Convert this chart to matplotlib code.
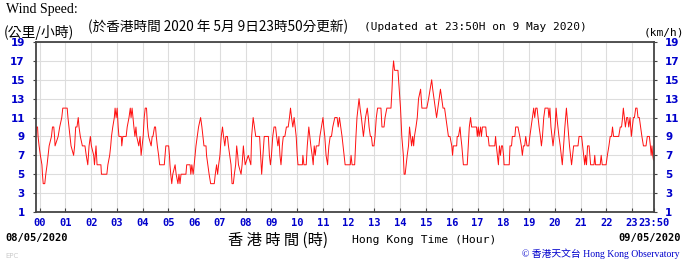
import matplotlib
matplotlib.use("Agg")
import matplotlib.pyplot as plt

# ---- data (hours since 00:00 on 08/05/2020, wind speed km/h) ----
hours = [
    -0.14, -0.12, -0.08, -0.06, -0.02, 0.03, 0.09, 0.11, 0.14, 0.20, 0.24, 0.29, 0.33, 0.37, 0.46, 0.50,
    0.55, 0.58, 0.60, 0.72, 0.78, 0.86, 0.90, 1.07, 1.10, 1.14, 1.18, 1.22, 1.32, 1.36, 1.40, 1.45,
    1.50, 1.53, 1.58, 1.66, 1.76, 1.81, 1.87, 1.92, 1.97, 2.01, 2.10, 2.13, 2.19, 2.23, 2.38, 2.40,
    2.61, 2.65, 2.72, 2.76, 2.79, 2.84, 2.90, 2.93, 2.97, 3.01, 3.05, 3.08, 3.17, 3.19, 3.23, 3.36,
    3.40, 3.47, 3.52, 3.55, 3.59, 3.66, 3.70, 3.74, 3.77, 3.85, 3.90, 3.94, 3.98, 4.02, 4.06, 4.10,
    4.15, 4.19, 4.23, 4.33, 4.37, 4.40, 4.46, 4.50, 4.53, 4.57, 4.62, 4.66, 4.84, 4.87, 4.90, 5.01,
    5.04, 5.06, 5.09, 5.13, 5.17, 5.26, 5.30, 5.37, 5.41, 5.45, 5.49, 5.68, 5.71, 5.84, 5.87, 5.91,
    5.96, 6.00, 6.07, 6.12, 6.17, 6.25, 6.30, 6.34, 6.38, 6.46, 6.48, 6.53, 6.58, 6.64, 6.78, 6.82,
    6.87, 6.91, 6.95, 7.00, 7.05, 7.10, 7.14, 7.19, 7.23, 7.29, 7.33, 7.38, 7.43, 7.47, 7.52, 7.56,
    7.61, 7.65, 7.69, 7.72, 7.82, 7.86, 7.91, 7.94, 7.98, 8.10,
    8.20, 8.23, 8.29, 8.34, 8.39, 8.54, 8.58, 8.62, 8.67, 8.72, 8.88, 8.92, 8.96, 9.00, 9.05, 9.10,
    9.16, 9.20, 9.25, 9.29, 9.33, 9.37, 9.40, 9.42, 9.46, 9.52, 9.58, 9.65, 9.70, 9.74, 9.78, 9.83,
    9.88, 9.92, 9.96, 10.00, 10.03, 10.20, 10.22, 10.26, 10.35, 10.39, 10.45, 10.49, 10.53, 10.58, 10.62, 10.66,
    10.70, 10.74, 10.84, 10.88, 10.94, 11.00, 11.03, 11.07, 11.12, 11.18, 11.20, 11.23, 11.28, 11.33, 11.38, 11.46,
    11.55, 11.59, 11.64, 11.69, 11.74, 11.78, 11.82, 11.86, 12.06, 12.09, 12.13, 12.23, 12.28, 12.32, 12.36, 12.40,
    12.44, 12.49, 12.53, 12.57, 12.61, 12.65, 12.72, 12.76, 12.79, 12.84, 12.88, 12.92, 12.98, 13.02, 13.07, 13.12,
    13.25, 13.29, 13.37, 13.41, 13.48, 13.64, 13.68, 13.71, 13.74, 13.78, 13.91, 13.96, 14.01, 14.06, 14.12, 14.15,
    14.19, 14.23, 14.27, 14.32, 14.36, 14.40, 14.44, 14.48, 14.52, 14.55, 14.61, 14.66, 14.71, 14.79, 14.84, 15.03,
    15.10, 15.16, 15.22, 15.26, 15.31, 15.36, 15.41, 15.46, 15.51, 15.56, 15.61, 15.66, 15.72, 15.77, 15.82, 15.87,
    15.93, 16.00, 16.03,
    16.06, 16.19, 16.21, 16.26, 16.32, 16.35, 16.39, 16.45, 16.60, 16.64, 16.68, 16.73, 16.77, 16.96, 16.99, 17.03,
    17.06, 17.12, 17.15, 17.19, 17.32, 17.35, 17.41, 17.45, 17.67, 17.70, 17.73, 17.77, 17.81, 17.85, 17.89, 17.93,
    17.97, 18.01, 18.03, 18.23, 18.26, 18.32, 18.35, 18.45, 18.48, 18.57, 18.64, 18.70, 18.74, 18.78, 18.83, 18.87,
    18.92, 18.99, 19.03, 19.08, 19.13, 19.18, 19.22, 19.26, 19.31, 19.35, 19.39, 19.44, 19.48, 19.52, 19.57, 19.62,
    19.74, 19.77, 19.81, 19.85, 19.89, 19.93, 19.97, 20.01, 20.05, 20.08, 20.12, 20.16, 20.21, 20.25, 20.29, 20.34,
    20.39, 20.45, 20.48, 20.54, 20.57, 20.61, 20.65, 20.69, 20.73, 20.90, 20.94, 21.04, 21.08, 21.12, 21.16, 21.19,
    21.23, 21.27, 21.33, 21.36, 21.39, 21.52, 21.55, 21.58, 21.76, 21.80, 21.84, 21.99, 22.04, 22.10, 22.15, 22.20,
    22.24, 22.28, 22.48, 22.54, 22.59, 22.63, 22.66, 22.70, 22.74, 22.79, 22.83, 22.87, 22.92, 22.97, 23.01, 23.05,
    23.09, 23.14, 23.19, 23.23, 23.28, 23.33, 23.38, 23.44, 23.54, 23.59, 23.67, 23.71, 23.74, 23.77, 23.80, 23.83,
]
speed = [
    9, 10, 10, 9, 8, 7, 6, 5, 4, 4, 5, 6, 7, 8, 9, 10,
    10, 9, 8, 9, 10, 11, 12, 12, 11, 10, 9, 8, 7, 8, 10, 10,
    11, 10, 9, 8, 8, 7, 6, 8, 9, 8, 7, 6, 8, 6, 6, 5,
    5, 6, 7, 8, 9, 10, 11, 12, 11, 12, 10, 9, 9, 8, 9, 9,
    10, 11, 12, 11, 12, 10, 9, 10, 9, 8, 9, 7, 8, 9, 11, 12,
    12, 10, 9, 8, 9, 9, 10, 10, 9, 8, 7, 6, 6, 7, 8, 8,
    7, 6, 5, 4, 5, 6, 5, 4, 5, 4, 5, 5, 6, 6, 5, 6,
    5, 6, 8, 9, 10, 11, 10, 9, 8, 8, 7, 6, 5, 4, 4, 5,
    6, 5, 6, 7, 9, 10, 9, 8, 9, 9, 8, 7, 6, 4, 4, 5,
    6, 8, 7, 6, 5, 6, 8, 7, 6, 7,
    6, 9, 11, 10, 9, 9, 7, 5, 7, 9, 9, 7, 6, 7, 9, 10,
    10, 9, 8, 9, 7, 6, 7, 8, 9, 9, 10, 10, 11, 12, 11, 10,
    11, 10, 9, 7, 6, 6, 7, 6, 6, 8, 10, 9, 8, 7, 6, 8,
    7, 8, 8, 9, 10, 11, 10, 9, 7, 6, 7, 8, 9, 9, 10, 11,
    11, 10, 11, 10, 9, 8, 7, 6, 6, 7, 6, 6, 9, 11, 12, 13,
    12, 11, 10, 9, 10, 11, 12, 11, 10, 9, 9, 8, 8, 9, 11, 12,
    12, 10, 10, 11, 12, 12, 14, 16, 17, 16, 16, 14, 12, 9, 7, 5,
    5, 6, 7, 8, 10, 9, 8, 9, 8, 9, 10, 11, 13, 14, 12, 12,
    13, 14, 15, 14, 13, 12, 11, 12, 13, 14, 13, 12, 12, 11, 10, 9,
    9, 8, 7,
    8, 8, 9, 9, 10, 9, 8, 6, 6, 8, 10, 11, 10, 10, 9, 10,
    9, 10, 9, 10, 10, 9, 9, 8, 8, 9, 8, 7, 6, 8, 7, 8,
    8, 7, 6, 6, 8, 8, 9, 9, 10, 10, 9, 8, 7, 8, 8, 9,
    8, 8, 9, 10, 11, 12, 11, 12, 12, 11, 10, 9, 8, 9, 11, 12,
    12, 11, 12, 10, 9, 8, 9, 10, 12, 11, 10, 9, 8, 7, 6, 8,
    10, 12, 11, 9, 8, 7, 6, 7, 8, 8, 9, 9, 8, 7, 6, 7,
    6, 8, 8, 7, 6, 6, 7, 6, 6, 7, 6, 6, 7, 8, 9, 9,
    10, 9, 9, 10, 10, 11, 12, 11, 10, 11, 11, 10, 11, 9, 10, 11,
    11, 12, 12, 11, 11, 10, 9, 8, 8, 9, 9, 8, 7, 8, 7, 6.5,
]
x_tick_pos = list(range(24)) + [23 + 50 / 60]
x_tick_labels = ["%02d" % h for h in range(24)] + ["23:50"]
y_ticks = [1, 3, 5, 7, 9, 11, 13, 15, 17, 19]

BLUE = "#0000CC"
CJK = ["Noto Sans CJK TC", "DejaVu Sans"]

fig = plt.figure(figsize=(6.85, 2.62), dpi=100)
fig.patch.set_facecolor("white")
W, H = 685, 262
ax = fig.add_axes([36 / W, 1 - 212 / H, (654 - 36) / W, (212 - 42) / H])

ax.plot(hours, speed, color="#FF1010", lw=0.7)

ax.set_xlim(-0.14, 23.85)
ax.set_ylim(1, 19)
ax.set_xticks(x_tick_pos)
ax.set_xticklabels(x_tick_labels)
ax.set_yticks(y_ticks)
ax.grid(True, color="#DDDDDD", lw=0.8)
ax.set_axisbelow(True)

for s in ax.spines.values():
    s.set_color("#444444")
    s.set_linewidth(1.3)

ax.tick_params(axis="x", direction="in", length=3, colors="#444444", pad=4,
               labelcolor=BLUE, labelsize=7.5)
ax.tick_params(axis="y", direction="out", length=2, colors="#444444", pad=6,
               labelcolor=BLUE, labelsize=7.5, left=True, right=True,
               labelleft=True, labelright=True)
for lab in ax.get_xticklabels():
    lab.set_fontfamily("DejaVu Sans Mono")
    lab.set_fontweight("bold")
for t in ax.yaxis.get_major_ticks():
    for lab in (t.label1, t.label2):
        lab.set_fontweight("bold")
        lab.set_fontfamily("DejaVu Sans")
        lab.set_fontsize(7.5)
        lab.set_color(BLUE)

def ft(x, y, s, **kw):
    fig.text(x / W, 1 - y / H, s, **kw)

ft(6, 10, "Wind Speed:", family="Liberation Serif", fontsize=10, va="center")
ft(4, 32, "(公里/小時)", family=CJK, fontsize=10, va="center")
ft(88, 27, "(於香港時間 2020 年 5月 9日23時50分更新)", family=CJK, fontsize=9.8, va="center")
ft(364, 27, "(Updated at 23:50H on 9 May 2020)", family="DejaVu Sans Mono", fontsize=8, va="center")
ft(684, 33, "(km/h)", family="DejaVu Sans Mono", fontsize=8, va="center", ha="right")
ft(5, 238, "08/05/2020", family="DejaVu Sans Mono", fontsize=7.5, fontweight="bold", va="center")
ft(681, 238, "09/05/2020", family="DejaVu Sans Mono", fontsize=7.5, fontweight="bold", va="center", ha="right")
ft(228, 240, "香 港 時 間 (時)", family=CJK, fontsize=11, va="center")
ft(352, 240, "Hong Kong Time (Hour)", family="DejaVu Sans Mono", fontsize=8.2, va="center")
ft(680, 254, "© 香港天文台 Hong Kong Observatory", family=["Liberation Serif", "Noto Sans CJK TC"],
   fontsize=7, color=BLUE, va="center", ha="right")
ft(5, 256, "EPC", family="DejaVu Sans", fontsize=5, color="#CCCCCC", va="center")

fig.savefig("out.png", dpi=100)
